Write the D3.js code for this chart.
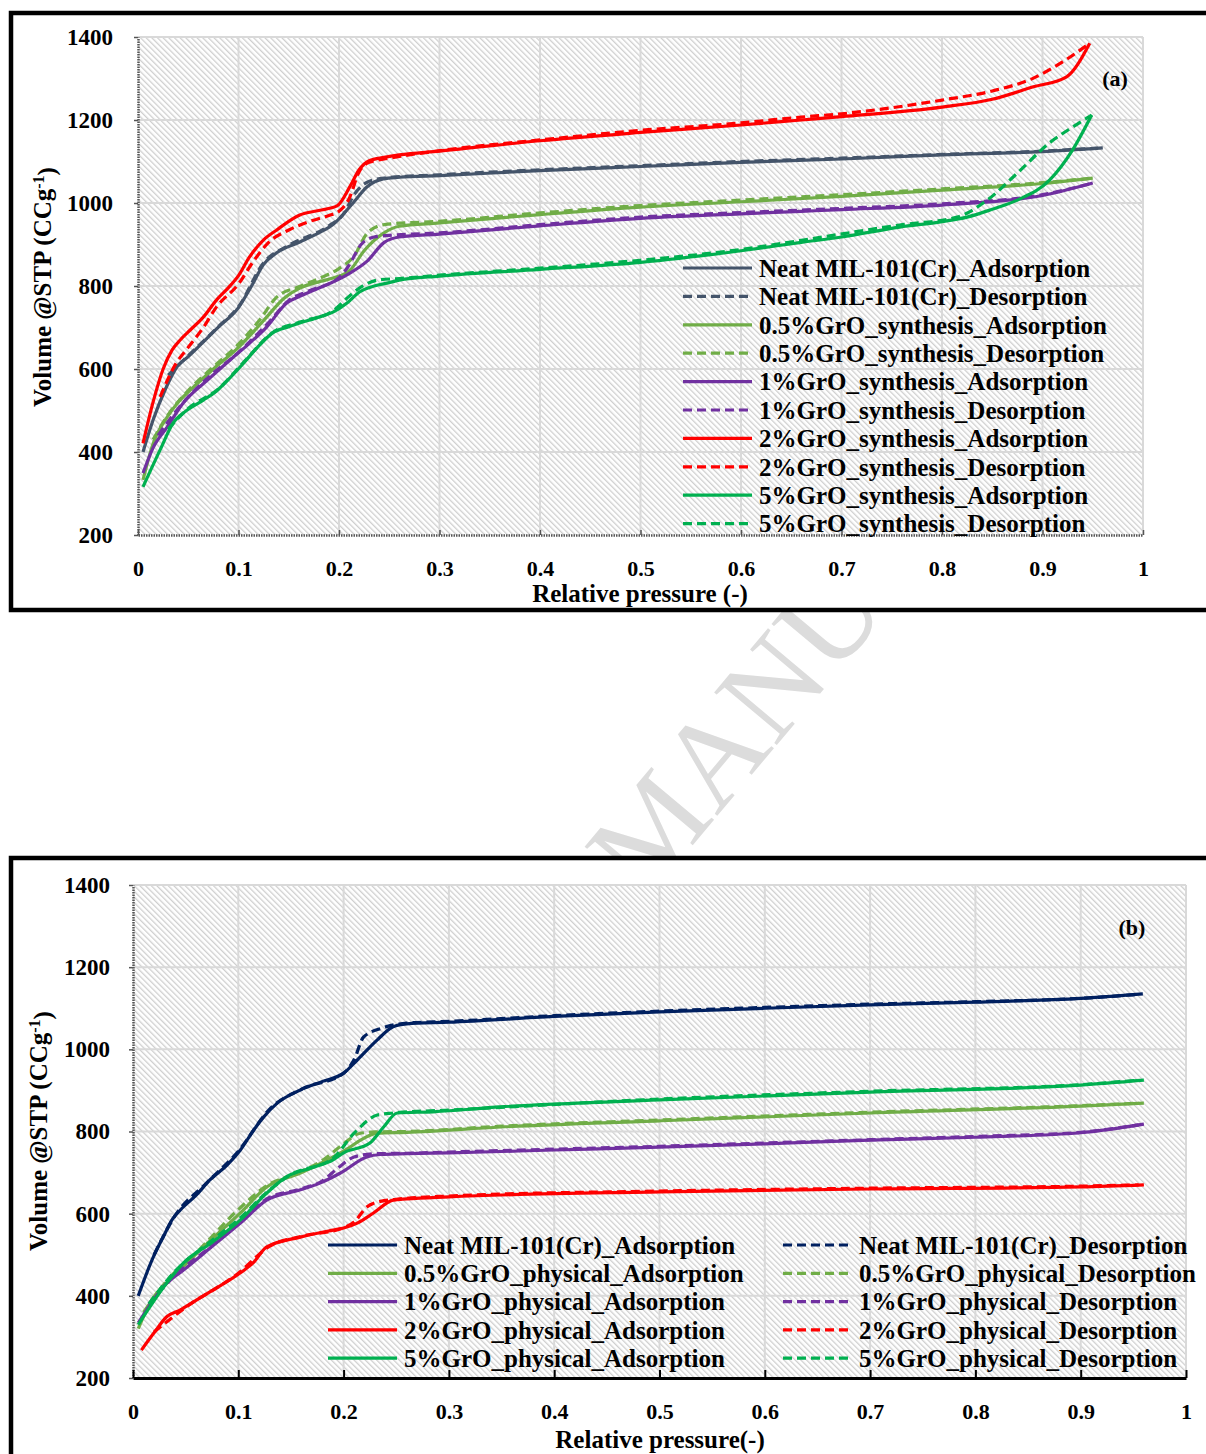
<!DOCTYPE html>
<html>
<head>
<meta charset="utf-8">
<script src="https://cdn.jsdelivr.net/npm/d3@7"></script>
<style>
  html, body { margin: 0; padding: 0; background: #fff; }
  svg { display: block; }
  text { font-family: "Liberation Serif", "Times New Roman", serif; font-weight: bold; fill: #000; }
</style>
</head>
<body>
<svg id="chart" width="1206" height="1454"></svg>
<script>
// ---- axis ticks ----
const xTicks = [0, 0.1, 0.2, 0.3, 0.4, 0.5, 0.6, 0.7, 0.8, 0.9, 1];
const yTicks = [200, 400, 600, 800, 1000, 1200, 1400];

// ---- panel (a): GrO added during synthesis, [P/P0, volume @STP] ----
const neatSynAds = [[0.005,400],[0.015,477],[0.027,550],[0.039,606],[0.05,630],[0.062,658],[0.08,701],[0.1,748],[0.113,800],[0.125,852],[0.138,880],[0.161,906],[0.18,928],[0.194,948],[0.214,1000],[0.228,1039],[0.244,1058],[0.26,1062],[0.3,1066],[0.4,1078],[0.5,1088],[0.6,1098],[0.7,1106],[0.8,1116],[0.9,1124],[0.96,1133]];
const neatSynDes = [[0.03,585],[0.05,632],[0.08,702],[0.1,750],[0.125,856],[0.15,898],[0.19,945],[0.205,975],[0.215,1020],[0.228,1050],[0.245,1060],[0.3,1068],[0.4,1080],[0.5,1090],[0.6,1100],[0.7,1108],[0.8,1117],[0.9,1125],[0.955,1132]];
const gro05SynAds = [[0.005,333],[0.015,420],[0.029,484],[0.04,520],[0.052,549],[0.075,600],[0.1,652],[0.115,690],[0.128,725],[0.145,770],[0.161,795],[0.18,810],[0.194,819],[0.211,838],[0.225,885],[0.244,927],[0.26,944],[0.3,952],[0.4,972],[0.5,990],[0.6,1003],[0.7,1016],[0.8,1031],[0.9,1047],[0.95,1060]];
const gro05SynDes = [[0.015,430],[0.03,490],[0.05,548],[0.075,605],[0.1,660],[0.12,715],[0.138,773],[0.16,798],[0.18,818],[0.2,842],[0.215,872],[0.228,927],[0.245,948],[0.3,956],[0.4,976],[0.5,994],[0.6,1007],[0.7,1020],[0.8,1034],[0.9,1049],[0.95,1060]];
const gro1SynAds = [[0.005,349],[0.015,410],[0.029,460],[0.045,518],[0.07,575],[0.095,629],[0.11,660],[0.128,701],[0.148,759],[0.161,775],[0.18,795],[0.198,814],[0.21,830],[0.228,860],[0.245,905],[0.26,918],[0.3,925],[0.4,945],[0.5,963],[0.6,974],[0.66,980],[0.7,984],[0.8,995],[0.9,1018],[0.95,1048]];
const gro1SynDes = [[0.02,440],[0.04,505],[0.07,580],[0.1,640],[0.13,712],[0.15,765],[0.17,788],[0.2,820],[0.21,850],[0.222,900],[0.235,918],[0.25,922],[0.3,928],[0.4,948],[0.5,966],[0.6,977],[0.7,987],[0.8,998],[0.9,1020],[0.95,1048]];
const gro2SynAds = [[0.005,421],[0.015,520],[0.025,600],[0.034,646],[0.042,670],[0.052,694],[0.065,725],[0.078,766],[0.09,796],[0.1,825],[0.111,870],[0.125,911],[0.138,935],[0.161,971],[0.18,982],[0.198,993],[0.211,1040],[0.22,1080],[0.23,1102],[0.245,1110],[0.26,1116],[0.3,1125],[0.4,1150],[0.5,1170],[0.6,1188],[0.66,1200],[0.7,1208],[0.8,1231],[0.85,1250],[0.891,1280],[0.924,1304],[0.947,1385]];
const gro2SynDes = [[0.022,533],[0.038,614],[0.048,646],[0.065,700],[0.078,749],[0.1,805],[0.115,860],[0.13,905],[0.15,935],[0.17,955],[0.19,970],[0.2,980],[0.21,1010],[0.22,1075],[0.23,1098],[0.25,1108],[0.3,1126],[0.4,1152],[0.5,1175],[0.6,1193],[0.66,1207],[0.7,1215],[0.8,1248],[0.85,1270],[0.891,1301],[0.92,1340],[0.947,1385]];
const gro5SynAds = [[0.005,316],[0.022,405],[0.035,470],[0.049,501],[0.065,525],[0.079,549],[0.09,575],[0.105,614],[0.12,655],[0.134,687],[0.15,702],[0.161,711],[0.18,725],[0.194,737],[0.208,759],[0.22,785],[0.235,800],[0.25,808],[0.26,814],[0.3,824],[0.4,840],[0.5,857],[0.6,885],[0.66,905],[0.7,918],[0.758,942],[0.8,955],[0.825,966],[0.85,985],[0.875,1007],[0.907,1055],[0.93,1128],[0.949,1212]];
const gro5SynDes = [[0.03,455],[0.05,505],[0.08,552],[0.105,616],[0.134,688],[0.161,713],[0.194,740],[0.21,775],[0.225,802],[0.24,815],[0.26,818],[0.3,826],[0.4,843],[0.5,862],[0.6,888],[0.66,910],[0.758,947],[0.815,966],[0.845,1007],[0.875,1072],[0.907,1145],[0.93,1183],[0.949,1212]];

// ---- panel (b): GrO blended physically, [P/P0, volume @STP] ----
const neatPhyAds = [[0.005,400],[0.018,487],[0.03,550],[0.037,585],[0.045,609],[0.06,645],[0.073,682],[0.09,720],[0.102,755],[0.115,805],[0.124,835],[0.137,869],[0.159,901],[0.18,922],[0.2,942],[0.213,974],[0.232,1023],[0.247,1055],[0.26,1062],[0.3,1066],[0.4,1080],[0.5,1091],[0.6,1100],[0.7,1108],[0.8,1115],[0.9,1124],[0.959,1135]];
const neatPhyDes = [[0.02,500],[0.04,595],[0.07,675],[0.1,752],[0.13,855],[0.16,903],[0.2,942],[0.21,975],[0.219,1030],[0.237,1052],[0.26,1064],[0.3,1068],[0.4,1082],[0.5,1093],[0.6,1102],[0.7,1110],[0.8,1116],[0.9,1124],[0.955,1134]];
const gro05PhyAds = [[0.005,320],[0.016,382],[0.038,446],[0.064,512],[0.08,550],[0.102,602],[0.127,665],[0.159,699],[0.19,738],[0.205,760],[0.216,779],[0.232,796],[0.26,798],[0.349,811],[0.5,826],[0.7,845],[0.9,862],[0.96,869]];
const gro05PhyDes = [[0.01,360],[0.03,430],[0.064,515],[0.1,610],[0.127,668],[0.159,702],[0.18,730],[0.2,770],[0.215,795],[0.23,799],[0.26,800],[0.35,813],[0.5,828],[0.7,847],[0.9,863],[0.955,869]];
const gro1PhyAds = [[0.005,334],[0.032,431],[0.048,463],[0.075,520],[0.102,577],[0.127,633],[0.159,658],[0.178,675],[0.197,699],[0.222,738],[0.235,744],[0.26,746],[0.3,748],[0.4,755],[0.5,762],[0.6,770],[0.7,779],[0.8,786],[0.9,797],[0.96,818]];
const gro1PhyDes = [[0.015,380],[0.04,450],[0.075,522],[0.102,580],[0.127,636],[0.159,660],[0.18,680],[0.195,712],[0.21,738],[0.23,746],[0.26,747],[0.3,750],[0.4,757],[0.5,764],[0.6,772],[0.7,780],[0.8,788],[0.9,798],[0.955,816]];
const gro2PhyAds = [[0.008,268],[0.02,310],[0.032,349],[0.045,366],[0.07,405],[0.102,456],[0.114,480],[0.127,519],[0.159,543],[0.19,560],[0.2,565],[0.213,577],[0.228,601],[0.247,633],[0.26,636],[0.3,641],[0.5,653],[0.7,660],[0.9,665],[0.96,670]];
const gro2PhyDes = [[0.02,312],[0.05,372],[0.1,455],[0.13,521],[0.16,545],[0.2,566],[0.21,580],[0.222,616],[0.235,630],[0.25,635],[0.3,643],[0.5,655],[0.7,662],[0.9,667],[0.955,670]];
const gro5PhyAds = [[0.005,330],[0.032,431],[0.048,480],[0.075,530],[0.102,585],[0.127,650],[0.146,690],[0.17,712],[0.19,731],[0.2,748],[0.225,772],[0.238,811],[0.251,845],[0.285,848],[0.349,860],[0.5,877],[0.7,896],[0.9,913],[0.96,925]];
const gro5PhyDes = [[0.015,380],[0.04,460],[0.075,535],[0.102,590],[0.127,652],[0.15,695],[0.19,735],[0.21,796],[0.232,840],[0.247,845],[0.3,852],[0.5,879],[0.7,898],[0.9,914],[0.955,925]];

// ---- series names and colours ----
const synNames = ["Neat MIL-101(Cr)_Adsorption","Neat MIL-101(Cr)_Desorption","0.5%GrO_synthesis_Adsorption","0.5%GrO_synthesis_Desorption","1%GrO_synthesis_Adsorption","1%GrO_synthesis_Desorption","2%GrO_synthesis_Adsorption","2%GrO_synthesis_Desorption","5%GrO_synthesis_Adsorption","5%GrO_synthesis_Desorption"];
const phyNames = ["Neat MIL-101(Cr)_Adsorption","Neat MIL-101(Cr)_Desorption","0.5%GrO_physical_Adsorption","0.5%GrO_physical_Desorption","1%GrO_physical_Adsorption","1%GrO_physical_Desorption","2%GrO_physical_Adsorption","2%GrO_physical_Desorption","5%GrO_physical_Adsorption","5%GrO_physical_Desorption"];
const synColors = ["#44546A","#44546A","#70AD47","#70AD47","#7030A0","#7030A0","#FF0000","#FF0000","#00B050","#00B050"];
const phyColors = ["#002060","#002060","#70AD47","#70AD47","#7030A0","#7030A0","#FF0000","#FF0000","#00B050","#00B050"];
const synData = [neatSynAds, neatSynDes, gro05SynAds, gro05SynDes, gro1SynAds, gro1SynDes, gro2SynAds, gro2SynDes, gro5SynAds, gro5SynDes];
const phyData = [neatPhyAds, neatPhyDes, gro05PhyAds, gro05PhyDes, gro1PhyAds, gro1PhyDes, gro2PhyAds, gro2PhyDes, gro5PhyAds, gro5PhyDes];

const svg = d3.select("#chart");

// hatched plot-area fill
const defs = svg.append("defs");
const pat = defs.append("pattern")
  .attr("id", "hatch").attr("patternUnits", "userSpaceOnUse")
  .attr("width", 4).attr("height", 4)
  .attr("patternTransform", "rotate(-45)");
pat.append("rect").attr("width", 4).attr("height", 4).attr("fill", "#fff");
pat.append("rect").attr("width", 1.3).attr("height", 4).attr("fill", "#cfcfcf");

// faint diagonal watermark behind the panels
svg.append("text")
  .attr("transform", "translate(645,902) rotate(-50)")
  .style("font-weight", "normal")
  .style("font-size", "125px")
  .style("fill", "#dcdcdc")
  .text("MANU");

function drawPanel(cfg) {
  // framed white card
  svg.append("rect")
    .attr("x", cfg.frame[0]).attr("y", cfg.frame[1])
    .attr("width", cfg.frame[2]).attr("height", cfg.frame[3])
    .attr("fill", "#fff").attr("stroke", "#000").attr("stroke-width", 4.5);

  const g = svg.append("g");
  const x = d3.scaleLinear().domain([0, 1]).range([cfg.left, cfg.right]);
  const y = d3.scaleLinear().domain([200, 1400]).range([cfg.bottom, cfg.top]);

  g.append("rect")
    .attr("x", cfg.left).attr("y", cfg.top)
    .attr("width", cfg.right - cfg.left).attr("height", cfg.bottom - cfg.top)
    .attr("fill", "url(#hatch)");

  // gridlines
  g.append("g").selectAll("line").data(xTicks.slice(1)).join("line")
    .attr("x1", d => x(d)).attr("x2", d => x(d))
    .attr("y1", cfg.top).attr("y2", cfg.bottom)
    .attr("stroke", "#d9d9d9").attr("stroke-width", 2);
  g.append("g").selectAll("line").data(yTicks.slice(1)).join("line")
    .attr("x1", cfg.left).attr("x2", cfg.right)
    .attr("y1", d => y(d)).attr("y2", d => y(d))
    .attr("stroke", "#d9d9d9").attr("stroke-width", 2);

  // axes
  const yAxis = g.append("g").attr("transform", `translate(${cfg.left},0)`)
    .call(d3.axisLeft(y).tickValues(yTicks).tickFormat(d3.format("d"))
      .tickSizeInner(4).tickSizeOuter(0).tickPadding(cfg.yPad));
  yAxis.select(".domain").attr("stroke", "#555").attr("stroke-width", 2.5).attr("stroke-dasharray", "1.5,1");
  yAxis.selectAll(".tick line").attr("stroke", "#555").attr("stroke-width", 1.5);
  yAxis.selectAll("text").style("font-size", "23px").attr("fill", "#000");

  const xAxis = g.append("g").attr("transform", `translate(0,${cfg.bottom})`)
    .call(d3.axisBottom(x).tickValues(xTicks).tickFormat(d => d === 0 || d === 1 ? d3.format("d")(d) : d3.format(".1f")(d))
      .tickSizeInner(-cfg.xTick).tickSizeOuter(0).tickPadding(25));
  if (cfg.solidX) {
    xAxis.select(".domain").attr("stroke", "#000").attr("stroke-width", 3);
    xAxis.selectAll(".tick line").attr("stroke", "#000").attr("stroke-width", 2);
  } else {
    xAxis.select(".domain").attr("stroke", "#555").attr("stroke-width", 2.5).attr("stroke-dasharray", "1.5,1");
    xAxis.selectAll(".tick line").attr("stroke", "#555").attr("stroke-width", 1.5);
  }
  xAxis.selectAll("text").style("font-size", "22px").attr("fill", "#000");

  // isotherm curves
  const line = d3.line().x(d => x(d[0])).y(d => y(d[1])).curve(d3.curveMonotoneX);
  cfg.data.forEach((pts, i) => {
    g.append("path").datum(pts)
      .attr("d", line)
      .attr("fill", "none")
      .attr("stroke", cfg.colors[i])
      .attr("stroke-width", 3.2)
      .attr("stroke-linejoin", "round")
      .attr("stroke-dasharray", i % 2 ? "9,5" : null);
  });

  // legend
  cfg.names.forEach((name, i) => {
    const pos = cfg.legendPos(i);
    g.append("line")
      .attr("x1", pos[0]).attr("x2", pos[0] + 69)
      .attr("y1", pos[1]).attr("y2", pos[1])
      .attr("stroke", cfg.colors[i]).attr("stroke-width", 3.2)
      .attr("stroke-dasharray", i % 2 ? "9,5" : null);
    g.append("text")
      .attr("x", pos[0] + 76).attr("y", pos[1]).attr("dy", "0.35em")
      .style("font-size", "25px")
      .text(name);
  });

  // panel tag
  g.append("text").attr("x", cfg.tag[0]).attr("y", cfg.tag[1]).attr("dy", "0.35em")
    .attr("text-anchor", "middle").style("font-size", "22px").text(cfg.tagText);

  // axis titles
  g.append("text")
    .attr("transform", `translate(${cfg.yTitle[0]},${cfg.yTitle[1]}) rotate(-90)`)
    .attr("text-anchor", "middle").attr("dy", "0.35em")
    .style("font-size", "25px")
    .call(t => {
      t.append("tspan").text("Volume @STP (CCg");
      t.append("tspan").attr("dy", "-0.45em").style("font-size", "16px").text("-1");
      t.append("tspan").attr("dy", "0.45em").text(")");
    });
  g.append("text")
    .attr("x", cfg.xTitle[0]).attr("y", cfg.xTitle[1])
    .attr("text-anchor", "middle").style("font-size", "25px")
    .text(cfg.xTitleText);
}

drawPanel({
  frame: [11, 13, 1220, 597],
  left: 138, right: 1143, top: 37, bottom: 535,
  yPad: 21, xTick: 5, solidX: false,
  data: synData, colors: synColors, names: synNames,
  legendPos: i => [683, 268 + i * 28.4],
  tag: [1115, 78], tagText: "(a)",
  yTitle: [42, 287], xTitle: [640, 602], xTitleText: "Relative pressure (-)"
});

drawPanel({
  frame: [11, 858, 1220, 620],
  left: 133, right: 1186, top: 885, bottom: 1378,
  yPad: 19, xTick: 8, solidX: true,
  data: phyData, colors: phyColors, names: phyNames,
  legendPos: i => [i % 2 ? 783 : 328, 1245 + Math.floor(i / 2) * 28.3],
  tag: [1132, 927], tagText: "(b)",
  yTitle: [38, 1131], xTitle: [660, 1448], xTitleText: "Relative pressure(-)"
});
</script>
</body>
</html>
